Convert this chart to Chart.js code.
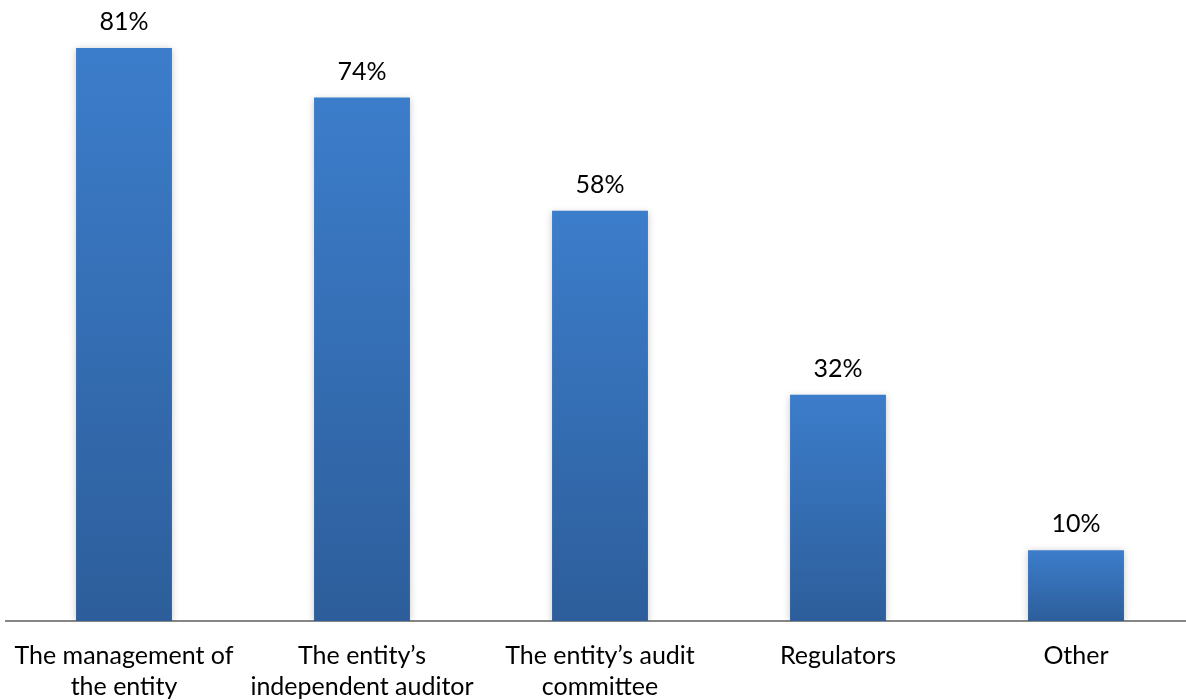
<!DOCTYPE html>
<html>
<head>
<meta charset="utf-8">
<script src="https://cdn.jsdelivr.net/npm/chart.js@4"></script>
<style>
  html, body { margin: 0; padding: 0; background: #fff; overflow: hidden; }
  #wrap { position: absolute; left: 5px; top: 0; width: 1190px; height: 700px; }
</style>
</head>
<body>
<div id="wrap"><canvas id="chart"></canvas></div>
<script>
const categories = [
  ['The management of', 'the entity'],
  ['The entity\u2019s', 'independent auditor'],
  ['The entity\u2019s audit', 'committee'],
  'Regulators',
  'Other'
];
const percentages = [81, 74, 58, 32, 10];

const FONT = 'Lato, "Open Sans", sans-serif';

const valueLabels = {
  id: 'valueLabels',
  beforeDatasetsDraw(chart) {
    const ctx = chart.ctx;
    ctx.save();
    ctx.shadowColor = 'rgba(0,0,0,0.22)';
    ctx.shadowBlur = 7;
    ctx.shadowOffsetX = 0;
    ctx.shadowOffsetY = 1;
  },
  afterDatasetsDraw(chart) {
    const ctx = chart.ctx;
    ctx.restore();
    const meta = chart.getDatasetMeta(0);
    ctx.save();
    ctx.font = '25px ' + FONT;
    ctx.fillStyle = '#000';
    ctx.textAlign = 'center';
    ctx.textBaseline = 'alphabetic';
    meta.data.forEach((bar, i) => {
      ctx.fillText(percentages[i] + '%', bar.x, bar.y - 18);
    });
    ctx.restore();
  }
};

new Chart(document.getElementById('chart'), {
  type: 'bar',
  data: {
    labels: categories,
    datasets: [{
      data: percentages,
      backgroundColor: ctx => {
        const chart = ctx.chart;
        const area = chart.chartArea;
        if (!area || ctx.raw == null) return '#3a78c4';
        const yScale = chart.scales.y;
        const top = yScale.getPixelForValue(ctx.raw);
        const bottom = yScale.getPixelForValue(0);
        const g = chart.ctx.createLinearGradient(0, top, 0, bottom);
        g.addColorStop(0, '#3c7dcb');
        g.addColorStop(1, '#2d5e9b');
        return g;
      },
      borderWidth: 0,
      categoryPercentage: 1,
      barPercentage: 0.403
    }]
  },
  options: {
    responsive: true,
    maintainAspectRatio: false,
    animation: false,
    layout: { padding: 0 },
    plugins: {
      legend: { display: false },
      tooltip: { enabled: false },
      title: { display: false }
    },
    scales: {
      x: {
        grid: { display: false, drawTicks: true, tickLength: 20 },
        border: { display: true, color: '#868686', width: 2 },
        ticks: {
          color: '#000',
          padding: 0,
          maxRotation: 0,
          autoSkip: false,
          font: { family: FONT, size: 25, lineHeight: 1.23 }
        },
        afterFit: scale => { scale.height = 79; }
      },
      y: {
        display: false,
        min: 0,
        max: 87.8
      }
    }
  },
  plugins: [valueLabels]
});
</script>
</body>
</html>
